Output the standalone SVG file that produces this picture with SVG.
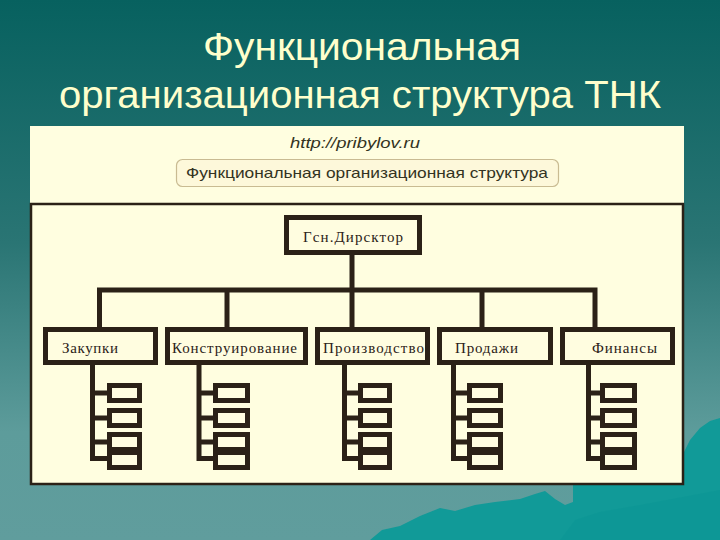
<svg xmlns="http://www.w3.org/2000/svg" width="720" height="540" viewBox="0 0 720 540">
<defs>
<linearGradient id="bg" x1="0" y1="0" x2="0" y2="1">
<stop offset="0" stop-color="#07615f"/>
<stop offset="0.45" stop-color="#2a7574"/>
<stop offset="0.8" stop-color="#5d9c9b"/>
<stop offset="1" stop-color="#609d9d"/>
</linearGradient>
<style>
.title{font-family:"Liberation Sans",Arial,sans-serif;font-size:38px;fill:#ffffcc}
.node rect{fill:#fffde0;stroke:#2b2117;stroke-width:5}
.sub rect{fill:#fffde0;stroke:#2b2117;stroke-width:5}
.lbl{font-family:"Liberation Serif","Times New Roman",serif;font-size:15px;fill:#2b2117}
.conn{fill:none;stroke:#2b2117;stroke-width:5;stroke-linejoin:miter;stroke-linecap:square}
</style>
</defs>
<rect x="0" y="0" width="720" height="540" fill="url(#bg)"/>
<path d="M370 540 L382 530 L400 526 L420 516 L440 508 L455 511 L475 505 L495 502 L520 499 L535 494 L545 491 L555 499 L565 505 L573 502 L573 484 L684 484 L684 452 L690 440 L700 428 L710 421 L720 418 L720 540 Z" fill="#119a98"/>
<path d="M560 540 L575 520 L600 512 L640 505 L720 490 L720 540 Z" fill="#0c9694" opacity="0.6"/>
<text class="title" x="203" y="60" textLength="318" lengthAdjust="spacingAndGlyphs">Функциональная</text>
<text class="title" x="59" y="108" textLength="602" lengthAdjust="spacingAndGlyphs">организационная структура ТНК</text>

<rect x="30" y="126" width="654" height="80" fill="#fffee0"/>
<text x="355" y="148" font-family="Liberation Sans,Arial,sans-serif" font-size="15" font-style="italic" fill="#333322" text-anchor="middle" textLength="130" lengthAdjust="spacingAndGlyphs">http://pribylov.ru</text>
<rect x="176.5" y="159.5" width="382" height="27" rx="6" fill="#fdf8da" stroke="#c9bb92" stroke-width="1.2"/>
<text x="367" y="178" font-family="Liberation Sans,Arial,sans-serif" font-size="15" fill="#333322" text-anchor="middle" textLength="362" lengthAdjust="spacingAndGlyphs">Функциональная организационная структура</text>

<rect x="31" y="204" width="652" height="280" fill="#fffee0" stroke="#2b2117" stroke-width="2.5"/>

<g id="connectors">
<path class="conn" d="M352 254 V290 M99.5 327 V290 H595 V327 M227 290 V327 M352 290 V327 M482 290 V327"/>
<path class="conn" d="M92.5 365 V458.5 H107 M92.5 393 H107 M92.5 418 H107 M92.5 442 H107"/>
<path class="conn" d="M199 365 V458.5 H213 M199 393 H213 M199 418 H213 M199 442 H213"/>
<path class="conn" d="M344.5 365 V458.5 H358 M344.5 393 H358 M344.5 418 H358 M344.5 442 H358"/>
<path class="conn" d="M453.5 365 V458.5 H467 M453.5 393 H467 M453.5 418 H467 M453.5 442 H467"/>
<path class="conn" d="M588.5 365 V458.5 H600 M588.5 393 H600 M588.5 418 H600 M588.5 442 H600"/>
</g>

<g id="director" class="node"><rect x="286.5" y="217.5" width="133" height="35"/><text class="lbl" x="303" y="242" textLength="100" lengthAdjust="spacing">Гсн.Дирсктор</text></g>
<g id="zakupki" class="node"><rect x="45.5" y="329.5" width="110" height="33"/><text class="lbl" x="62" y="353" textLength="56" lengthAdjust="spacing">Закупки</text></g>
<g id="konstruirovanie" class="node"><rect x="167.5" y="329.5" width="138" height="33"/><text class="lbl" x="172" y="353" textLength="125" lengthAdjust="spacing">Конструирование</text></g>
<g id="proizvodstvo" class="node"><rect x="317.5" y="329.5" width="110" height="33"/><text class="lbl" x="323" y="353" textLength="101" lengthAdjust="spacing">Производство</text></g>
<g id="prodazhi" class="node"><rect x="439.5" y="329.5" width="111" height="33"/><text class="lbl" x="455" y="353" textLength="63" lengthAdjust="spacing">Продажи</text></g>
<g id="finansy" class="node"><rect x="562.5" y="329.5" width="110" height="33"/><text class="lbl" x="592" y="353" textLength="65" lengthAdjust="spacing">Финансы</text></g>

<g id="sub-zakupki" class="sub"><rect x="109.5" y="385.5" width="30" height="15"/><rect x="109.5" y="410.5" width="30" height="15"/><rect x="109.5" y="434.5" width="30" height="15"/><rect x="109.5" y="452.5" width="30" height="15"/></g>
<g id="sub-konstruirovanie" class="sub"><rect x="215.5" y="385.5" width="32" height="15"/><rect x="215.5" y="410.5" width="32" height="15"/><rect x="215.5" y="434.5" width="32" height="15"/><rect x="215.5" y="452.5" width="32" height="15"/></g>
<g id="sub-proizvodstvo" class="sub"><rect x="360.5" y="385.5" width="29" height="15"/><rect x="360.5" y="410.5" width="29" height="15"/><rect x="360.5" y="434.5" width="29" height="15"/><rect x="360.5" y="452.5" width="29" height="15"/></g>
<g id="sub-prodazhi" class="sub"><rect x="469.5" y="385.5" width="31" height="15"/><rect x="469.5" y="410.5" width="31" height="15"/><rect x="469.5" y="434.5" width="31" height="15"/><rect x="469.5" y="452.5" width="31" height="15"/></g>
<g id="sub-finansy" class="sub"><rect x="602.5" y="385.5" width="32" height="15"/><rect x="602.5" y="410.5" width="32" height="15"/><rect x="602.5" y="434.5" width="32" height="15"/><rect x="602.5" y="452.5" width="32" height="15"/></g>
</svg>
